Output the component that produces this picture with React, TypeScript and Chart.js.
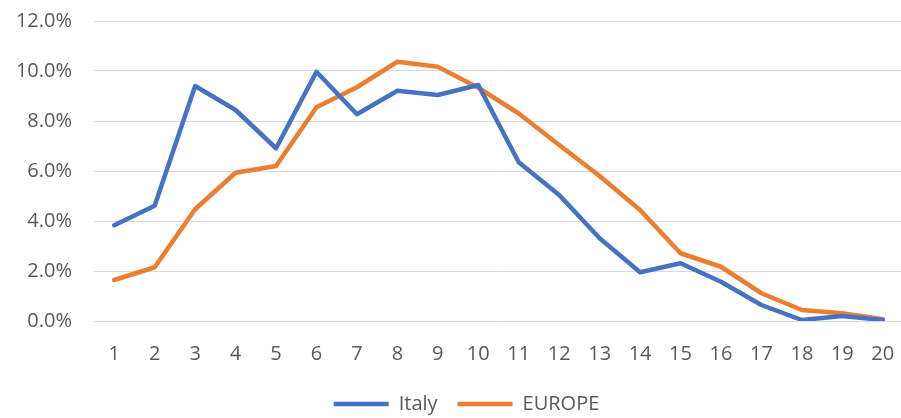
import React, { useEffect, useRef } from "react";
import { Chart, registerables } from "chart.js";

Chart.register(...registerables);

const categories = ["1","2","3","4","5","6","7","8","9","10","11","12","13","14","15","16","17","18","19","20"];
const italy = [3.83, 4.61, 9.4, 8.44, 6.91, 9.97, 8.27, 9.21, 9.04, 9.44, 6.35, 5.04, 3.31, 1.95, 2.31, 1.57, 0.64, 0.04, 0.2, 0.04];
const europe = [1.64, 2.15, 4.47, 5.93, 6.2, 8.55, 9.35, 10.37, 10.17, 9.33, 8.3, 7.04, 5.8, 4.44, 2.71, 2.17, 1.11, 0.44, 0.31, 0.07];
const seriesNames = ["Italy", "EUROPE"];
const yMin = 0;
const yMax = 12;
const yStep = 2;

const FONT = "'Open Sans', 'Liberation Sans', sans-serif";
const TEXT = "#595959";

const shiftLegend = {
  id: "shiftLegend",
  afterLayout(chart: any) {
    if (chart.legend) {
      chart.legend.left += 30;
    }
  },
};

export default function App() {
  const ref = useRef<HTMLCanvasElement | null>(null);
  useEffect(() => {
    if (!ref.current) return;
    const chart = new Chart(ref.current, {
      type: "line",
      data: {
        labels: categories,
        datasets: [
          {
            label: seriesNames[0],
            data: italy,
            borderColor: "#4472C4",
            backgroundColor: "#4472C4",
            borderWidth: 4.5,
            pointRadius: 0,
            borderCapStyle: "round",
            borderJoinStyle: "round",
            tension: 0,
          },
          {
            label: seriesNames[1],
            data: europe,
            borderColor: "#ED7D31",
            backgroundColor: "#ED7D31",
            borderWidth: 4.5,
            pointRadius: 0,
            borderCapStyle: "round",
            borderJoinStyle: "round",
            tension: 0,
          },
        ],
      },
      plugins: [shiftLegend],
      options: {
        animation: false,
        responsive: false,
        maintainAspectRatio: false,
        layout: { padding: { top: 21, left: 0, right: 0, bottom: -6 } },
        plugins: {
          tooltip: { enabled: false },
          legend: {
            position: "bottom",
            labels: {
              usePointStyle: true,
              pointStyle: "line",
              pointStyleWidth: 55,
              boxHeight: 20,
              color: TEXT,
              font: { family: FONT, size: 20 },
              padding: 20,
            },
          },
        },
        scales: {
          x: {
            offset: true,
            grid: { display: false, drawTicks: true, tickLength: 21 },
            border: { display: false },
            ticks: {
              color: TEXT,
              font: { family: FONT, size: 20 },
              padding: 0,
              maxRotation: 0,
              autoSkip: false,
            },
            afterFit: (s: any) => {
              s.height = 53;
            },
          },
          y: {
            min: yMin,
            max: yMax,
            grid: { color: "#d9d9d9", lineWidth: 1, drawTicks: true, tickLength: 22, tickColor: "rgba(0,0,0,0)" },
            border: { display: false },
            ticks: {
              stepSize: yStep,
              color: TEXT,
              font: { family: FONT, size: 20 },
              padding: 0,
              callback: (v: any) => Number(v).toFixed(1) + "%",
            },
            afterFit: (s: any) => {
              s.width = 94;
            },
          },
        },
      },
    });
    return () => chart.destroy();
  }, []);
  return (
    <div style={{ position: "fixed", left: 0, top: 0, width: 901, height: 418, overflow: "hidden", background: "#fff" }}>
      <canvas ref={ref} width={903} height={418} style={{ display: "block", width: 903, height: 418 }} />
    </div>
  );
}
